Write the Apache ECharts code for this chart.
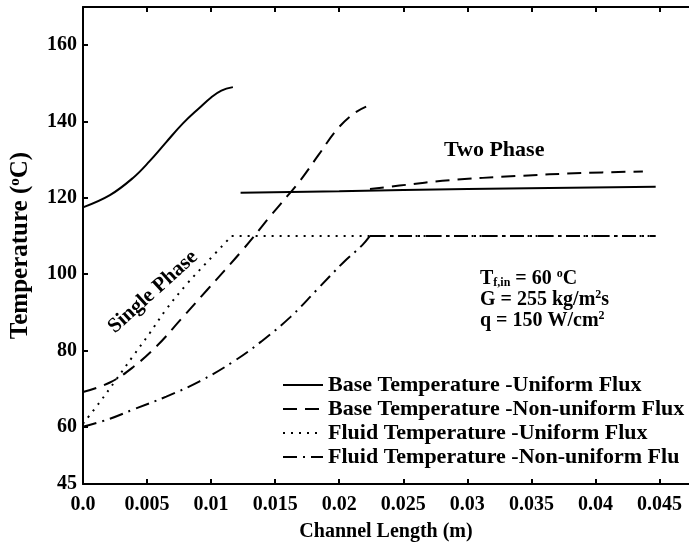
<!DOCTYPE html>
<html lang="en">
<head>
    <meta charset="UTF-8">
    <title>Temperature along channel</title>
    <script src="https://cdn.jsdelivr.net/npm/echarts@6/dist/echarts.min.js"></script>
    <style type="text/css">
        body{ margin:0; }
    </style>
</head>
<body>
<div id="main" style="width: 689px;height:547px;"></div>
<script type="text/javascript">
    var xTicks = [0, 0.005, 0.01, 0.015, 0.02, 0.025, 0.03, 0.035, 0.04, 0.045];
    var yLabels = [45, 60, 80, 100, 120, 140, 160];
    var yTicks = [60, 80, 100, 120, 140, 160];

    // base temperature, uniform flux (single phase, then two phase)
    var baseUniSingle = [[0, 117.5], [0.0021, 120.7], [0.0039, 125.2], [0.0052, 129.6], [0.0065, 134.6],
        [0.0078, 139.5], [0.0091, 143.6], [0.0100, 146.3], [0.0108, 148.1], [0.0117, 149]];
    var baseUniTwo = [[0.0123, 121.3], [0.02, 121.7], [0.03, 122.3], [0.0447, 122.9]];
    // base temperature, non-uniform flux
    var baseNonSingle = [[0, 69.1], [0.0021, 71.6], [0.0039, 75.6], [0.0058, 81.3], [0.0076, 88.0],
        [0.0097, 95.9], [0.0124, 106.1], [0.0145, 114.7], [0.0154, 118.3], [0.0169, 124.3],
        [0.0184, 131.3], [0.0198, 137.8], [0.0211, 142.0], [0.0221, 143.9]];
    var baseNonTwo = [[0.0224, 122.3], [0.0247, 123.2], [0.0286, 124.6], [0.0338, 125.7], [0.039, 126.5], [0.0437, 126.9]];
    // fluid temperature, uniform flux
    var fluidUniRise = [[0, 60.8], [0.0013, 66.4], [0.0026, 72.4], [0.0039, 78.5], [0.0052, 84.5],
        [0.0065, 90.8], [0.0081, 97.4], [0.0097, 103.2], [0.0116, 110]];
    var fluidUniFlat = [[0.0116, 110], [0.0447, 110]];
    // fluid temperature, non-uniform flux
    var fluidNonRise = [[0, 60], [0.0021, 62.1], [0.0039, 64.5], [0.0065, 67.9], [0.0091, 71.9],
        [0.0117, 77.0], [0.0139, 82.3], [0.0162, 88.8], [0.0182, 95.7], [0.0203, 103.0],
        [0.0218, 107.6], [0.0224, 110]];
    var fluidNonFlat = [[0.0224, 110], [0.0447, 110]];

    var names = ['Base Temperature -Uniform Flux', 'Base Temperature -Non-uniform Flux',
        'Fluid Temperature -Uniform Flux', 'Fluid Temperature -Non-uniform Flu'];

    var font = 'Liberation Serif';
    var lineStyles = [
        {color: '#000', width: 2, type: 'solid'},
        {color: '#000', width: 2, type: [14, 8]},
        {color: '#000', width: 2, type: [2, 6]},
        {color: '#000', width: 2, type: [14, 6, 2, 6]}
    ];

    function line(name, data, idx, smooth) {
        return {
            type: 'line',
            name: name,
            data: data,
            smooth: smooth ? 0.4 : false,
            symbol: 'none',
            lineStyle: lineStyles[idx],
            itemStyle: {color: '#000'},
            animation: false
        };
    }

    var myChart = echarts.init(document.getElementById('main'));
    var option = {
        backgroundColor: '#fff',
        grid: {left: 83, right: 0, top: 7, bottom: 58},
        legend: {
            orient: 'vertical',
            left: 277,
            top: 369,
            itemWidth: 40,
            itemHeight: 14,
            itemGap: 2,
            data: names,
            itemStyle: {opacity: 0},
            textStyle: {fontFamily: font, fontWeight: 'bold', fontSize: 22, color: '#000'}
        },
        xAxis: [{
            type: 'value',
            min: 0,
            max: 0.0473,
            name: 'Channel Length (m)',
            nameLocation: 'middle',
            nameGap: 38,
            nameTextStyle: {fontFamily: font, fontWeight: 'bold', fontSize: 20, color: '#000'},
            axisLine: {lineStyle: {color: '#000', width: 2}},
            axisTick: {inside: true, length: 5, lineStyle: {width: 2}, customValues: xTicks},
            axisLabel: {
                customValues: xTicks, margin: 11,
                fontFamily: font, fontWeight: 'bold', fontSize: 20, color: '#000',
                formatter: function (v) { return v === 0 ? '0.0' : String(v); }
            },
            splitLine: {show: false}
        }, {
            type: 'value',
            position: 'top',
            min: 0,
            max: 0.0473,
            axisLine: {lineStyle: {color: '#000', width: 2}},
            axisTick: {inside: true, length: 5, lineStyle: {width: 2}, customValues: xTicks},
            axisLabel: {show: false},
            splitLine: {show: false}
        }],
        yAxis: {
            type: 'value',
            min: 45,
            max: 170,
            name: '{a|Temperature (}{s|o}{a|C)}',
            nameLocation: 'middle',
            nameGap: 50,
            nameTextStyle: {
                rich: {
                    a: {fontFamily: font, fontWeight: 'bold', fontSize: 25, color: '#000'},
                    s: {fontFamily: font, fontWeight: 'bold', fontSize: 15, color: '#000', verticalAlign: 'top', padding: [0, 0, 10, 0]}
                }
            },
            axisLine: {show: true, lineStyle: {color: '#000', width: 2}},
            axisTick: {show: true, inside: true, length: 5, lineStyle: {width: 2}, customValues: yTicks},
            axisLabel: {customValues: yLabels, margin: 6, fontFamily: font, fontWeight: 'bold', fontSize: 20, color: '#000'},
            splitLine: {show: false}
        },
        graphic: [
            {
                type: 'text', left: 444, top: 139,
                style: {text: 'Two Phase', font: 'bold 22px "Liberation Serif"', fill: '#000'}
            },
            {
                type: 'text', x: 153, y: 292, rotation: 42 * Math.PI / 180,
                style: {text: 'Single Phase', font: 'bold 21px "Liberation Serif"', fill: '#000', align: 'center', verticalAlign: 'middle'}
            },
            {
                type: 'text', left: 480, top: 268,
                style: {
                    text: '{a|T}{b|f,in}{a| = 60 }{c|o}{a|C}\n{a|G = 255 kg/m}{c|2}{a|s}\n{a|q = 150 W/cm}{c|2}',
                    fill: '#000',
                    rich: {
                        a: {fontFamily: font, fontWeight: 'bold', fontSize: 20, lineHeight: 21, fill: '#000'},
                        b: {fontFamily: font, fontWeight: 'bold', fontSize: 12, lineHeight: 21, fill: '#000', verticalAlign: 'bottom'},
                        c: {fontFamily: font, fontWeight: 'bold', fontSize: 12, lineHeight: 21, fill: '#000', verticalAlign: 'top'}
                    }
                }
            }
        ],
        series: [
            line(names[0], baseUniSingle, 0, true),
            line(names[0], baseUniTwo, 0, true),
            line(names[1], baseNonSingle, 1, true),
            line(names[1], baseNonTwo, 1, true),
            line(names[2], fluidUniRise, 2, true),
            line(names[2], fluidUniFlat, 2, false),
            line(names[3], fluidNonRise, 3, true),
            line(names[3], fluidNonFlat, 3, false)
        ]
    };
    myChart.setOption(option);
</script>
</body>
</html>
